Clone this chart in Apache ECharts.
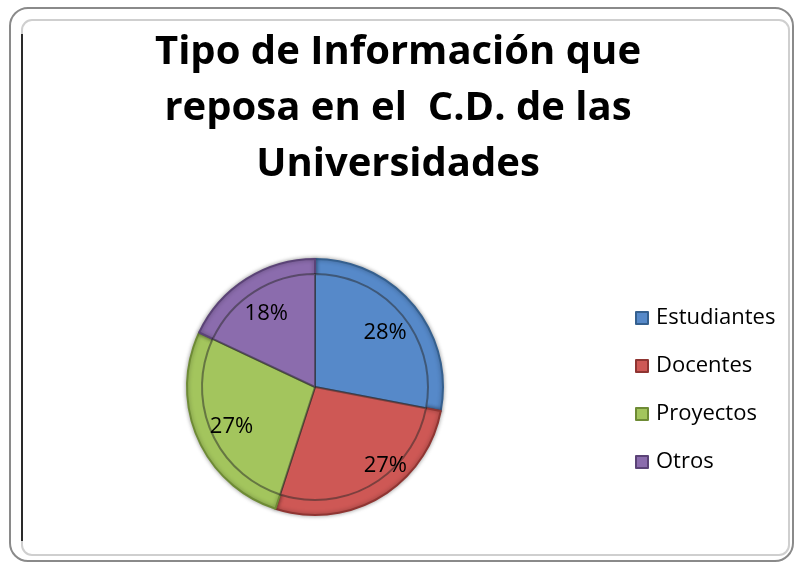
<!DOCTYPE html>
<html>
<head>
<meta charset="utf-8">
<script src="https://cdn.jsdelivr.net/npm/echarts@6/dist/echarts.min.js"></script>
<style>
  html, body { margin: 0; padding: 0; background: #fff; }
  #main { width: 796px; height: 563px; }
</style>
</head>
<body>
<div id="main"></div>
<script>
// chart data
const categories = ['Estudiantes', 'Docentes', 'Proyectos', 'Otros'];
const values = [28, 27, 27, 18];
const fillColors = ['#5689C9', '#CE5855', '#A3C55D', '#8B6CAD'];
const edgeColors = ['#35608F', '#8F3532', '#6E8B35', '#5B4377'];
const titleText = 'Tipo de Información que\nreposa en el  C.D. de las\nUniversidades';

const font = '"Open Sans", Lato, sans-serif';
const center = [315, 387];

let chart = echarts.init(document.getElementById('main'));

// outer ring of each slice
let outerData = categories.map((name, i) => ({
    name: name,
    value: values[i],
    itemStyle: {color: fillColors[i], borderColor: edgeColors[i]}
}));

// inset panel (fake bevel)
let innerData = categories.map((name, i) => ({
    name: name,
    value: values[i],
    itemStyle: {color: fillColors[i]}
}));

// label carrier, placed at ~70% of the radius
let labelData = categories.map((name, i) => ({
    name: name,
    value: values[i],
    label: {offset: i === 1 ? [24, 0] : [0, 4]}
}));

let option = {
    backgroundColor: '#fff',
    animation: false,
    title: {
        text: titleText,
        left: 'center',
        top: 20,
        textStyle: {
            fontFamily: font,
            fontWeight: 'bold',
            fontSize: 40,
            lineHeight: 56,
            color: '#000'
        }
    },
    legend: {
        orient: 'vertical',
        left: 630,
        top: 301,
        icon: 'rect',
        itemWidth: 12,
        itemHeight: 12,
        itemGap: 24,
        data: categories,
        textStyle: {fontFamily: font, fontSize: 22, lineHeight: 24, color: '#000', padding: [0, 0, 0, 3]}
    },
    graphic: [
        {
            type: 'rect',
            shape: {x: 10, y: 8, width: 783, height: 553, r: 18},
            style: {fill: 'none', stroke: '#8a8a8a', lineWidth: 2},
            silent: true
        },
        {
            type: 'rect',
            shape: {x: 22, y: 20, width: 767, height: 535, r: 10},
            style: {fill: 'none', stroke: '#cfcfcf', lineWidth: 2},
            silent: true
        },
        {
            type: 'line',
            shape: {x1: 22, y1: 34, x2: 22, y2: 541},
            style: {stroke: '#2a2a2a', lineWidth: 2},
            silent: true
        }
    ],
    series: [
        {
            name: 'outer',
            type: 'pie',
            center: center,
            radius: [0, 128],
            startAngle: 90,
            clockwise: true,
            silent: true,
            label: {show: false},
            labelLine: {show: false},
            itemStyle: {
                borderWidth: 2,
                shadowColor: 'rgba(0,0,0,0.35)',
                shadowBlur: 4
            },
            data: outerData
        },
        {
            name: 'inner',
            type: 'pie',
            center: center,
            radius: [0, 113],
            startAngle: 90,
            clockwise: true,
            silent: true,
            z: 3,
            label: {show: false},
            labelLine: {show: false},
            itemStyle: {
                borderWidth: 2,
                borderColor: 'rgba(40,40,40,0.5)'
            },
            data: innerData
        },
        {
            name: 'labels',
            type: 'pie',
            center: center,
            radius: [48, 128],
            startAngle: 90,
            clockwise: true,
            silent: true,
            z: 4,
            itemStyle: {color: 'rgba(0,0,0,0)', borderWidth: 0},
            labelLine: {show: false},
            label: {
                show: true,
                position: 'inside',
                formatter: '{d}%',
                fontFamily: font,
                fontSize: 22,
                color: '#000'
            },
            data: labelData
        }
    ]
};

chart.setOption(option);
</script>
</body>
</html>
